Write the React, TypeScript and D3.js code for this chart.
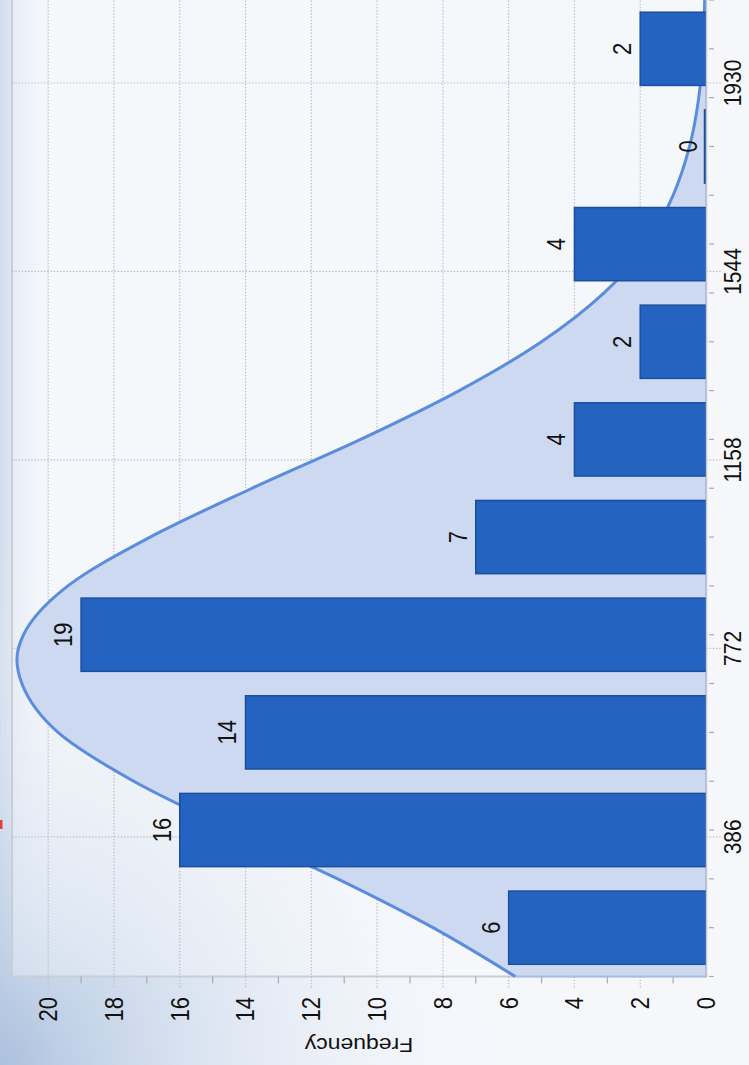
import React from 'react';
import * as d3 from 'd3';

// ---- data ----
const binCenters = [200, 400, 600, 800, 1000, 1200, 1400, 1600, 1800, 2000];
const frequencies = [6, 16, 14, 19, 7, 4, 2, 4, 0, 2];
const xTickLabels = [386, 772, 1158, 1544, 1930];
const yTickLabels = [0, 2, 4, 6, 8, 10, 12, 14, 16, 18, 20];
const curveValues = [100, 200, 300, 400, 500, 600, 700, 750, 800, 900, 1000, 1100, 1200, 1300, 1400, 1500, 1600, 1700, 1800, 1900, 2000, 2100];
const curveFreqs = [5.8, 8.3, 11.2, 14.4, 17.4, 19.7, 20.8, 20.95, 20.75, 19.4, 16.9, 13.8, 10.5, 7.5, 5.0, 3.1, 1.8, 1.0, 0.5, 0.22, 0.09, 0.04];
const yAxisTitle = 'Frequency';

const W = 749;
const H = 1065;

export default function App() {
  // chart is drawn in its own (unrotated) frame: width H, height W, then rotated -90deg
  const xScale = d3.scaleLinear().domain([100, 2100]).range([88.5, 1065]);
  const yScale = d3.scaleLinear().domain([0, 21.1]).range([706, 12]);
  const plotL = xScale(100);
  const plotR = 1066;
  const plotT = 12;
  const plotB = yScale(0);

  const pts = curveValues.map((v, i) => [v, curveFreqs[i]] as [number, number]);
  const area = d3
    .area<[number, number]>()
    .x((d) => xScale(d[0]))
    .y0(yScale(0))
    .y1((d) => yScale(d[1]))
    .curve(d3.curveMonotoneX);
  const line = d3
    .line<[number, number]>()
    .x((d) => xScale(d[0]))
    .y((d) => yScale(d[1]))
    .curve(d3.curveMonotoneX);

  const halfBar = 75;
  const minorX = xScale.ticks(20);
  const minorY = yScale.ticks(21).filter((t) => t <= 20 && t % 2 === 1);
  const gridY = yTickLabels.filter((t) => t > 0);
  const font = "'Liberation Sans', Arial, Helvetica, sans-serif";
  const stretch = 1.15;
  const textColor = '#111';
  const gridColor = '#b9bdc6';

  return (
    <svg
      width={W}
      height={H}
      style={{ position: 'absolute', left: 0, top: 0, display: 'block' }}
    >
      <defs>
        <radialGradient id="cornerGlow" cx="0" cy={H} r="520" gradientUnits="userSpaceOnUse">
          <stop offset="0" stopColor="#a9bfdd" stopOpacity="0.95" />
          <stop offset="0.35" stopColor="#c3d3e8" stopOpacity="0.6" />
          <stop offset="1" stopColor="#f5f7fb" stopOpacity="0" />
        </radialGradient>
        <linearGradient id="edgeGlow" x1="0" y1="0" x2="60" y2="0" gradientUnits="userSpaceOnUse">
          <stop offset="0" stopColor="#c9d6e9" stopOpacity="0.8" />
          <stop offset="1" stopColor="#f5f7fb" stopOpacity="0" />
        </linearGradient>
      </defs>
      <rect x={0} y={0} width={W} height={H} fill="#f5f7fb" />
      <rect x={0} y={0} width={W} height={H} fill="url(#edgeGlow)" />
      <rect x={0} y={0} width={W} height={H} fill="url(#cornerGlow)" />
      <rect x={0} y={820} width={2.5} height={9} fill="#e04040" />

      <g transform={`translate(0,${H}) rotate(-90)`}>
        {/* plot frame */}
        <rect
          x={plotL}
          y={plotT}
          width={plotR - plotL}
          height={plotB - plotT}
          fill="#f7f9fd"
          fillOpacity={0.35}
          stroke="#c9cdd5"
          strokeWidth={2}
        />

        {/* grid lines */}
        {gridY.map((t) => (
          <line
            key={'gy' + t}
            x1={plotL - 11}
            x2={plotR}
            y1={yScale(t)}
            y2={yScale(t)}
            stroke={gridColor}
            strokeWidth={1.2}
            strokeDasharray="1.4 1.8"
          />
        ))}
        {xTickLabels.map((t) => (
          <line
            key={'gx' + t}
            x1={xScale(t)}
            x2={xScale(t)}
            y1={plotT}
            y2={plotB + 16}
            stroke={gridColor}
            strokeWidth={1.2}
            strokeDasharray="1.4 1.8"
          />
        ))}

        {/* minor ticks */}
        {minorY.map((t) => (
          <line
            key={'my' + t}
            x1={plotL - 7}
            x2={plotL}
            y1={yScale(t)}
            y2={yScale(t)}
            stroke="#a7abb3"
            strokeWidth={1.2}
          />
        ))}
        {minorX.map((t) => (
          <line
            key={'mx' + t}
            x1={xScale(t)}
            x2={xScale(t)}
            y1={plotB + 3}
            y2={plotB + 8}
            stroke="#a7abb3"
            strokeWidth={1.2}
          />
        ))}

        {/* normal curve area */}
        <path d={area(pts) || ''} fill="#cdd9f0" stroke="#a7bee3" strokeWidth={2} />
        <path d={line(pts) || ''} fill="none" stroke="#5b8ddb" strokeWidth={3} />

        {/* bars */}
        {binCenters.map((c, i) => {
          const x0 = xScale(c - halfBar);
          const x1 = xScale(c + halfBar);
          const y0 = yScale(frequencies[i]);
          const h = Math.max(yScale(0) - y0, 1.5);
          return (
            <rect
              key={'b' + c}
              x={x0}
              y={yScale(0) - h}
              width={x1 - x0}
              height={h}
              fill="#2563c1"
              stroke="#1b4e9d"
              strokeWidth={1.5}
            />
          );
        })}

        {/* bar value labels */}
        {binCenters.map((c, i) => (
          <text
            key={'bl' + c}
            transform={`translate(${xScale(c)},${yScale(frequencies[i]) - 18}) scale(1,${stretch})`}
            dy="0.35em"
            textAnchor="middle"
            fontFamily={font}
            fontSize={22}
            fill={textColor}
          >
            {frequencies[i]}
          </text>
        ))}

        {/* axis line at frequency 0 */}
        <line x1={plotL} x2={plotR} y1={plotB + 0.5} y2={plotB + 0.5} stroke="#c2c6ce" strokeWidth={1.5} />

        {/* frequency tick labels */}
        {yTickLabels.map((t) => (
          <text
            key={'yl' + t}
            transform={`translate(68,${yScale(t)}) scale(1,${stretch})`}
            dy="0.35em"
            textAnchor="end"
            fontFamily={font}
            fontSize={22}
            fill={textColor}
          >
            {t}
          </text>
        ))}

        {/* value axis tick labels */}
        {xTickLabels.map((t) => (
          <text
            key={'xl' + t}
            transform={`translate(${xScale(t)},733) scale(1,1.1)`}
            dy="0.35em"
            textAnchor="middle"
            fontFamily={font}
            fontSize={21}
            fill={textColor}
          >
            {t}
          </text>
        ))}

        {/* axis title */}
        <text
          transform={`translate(20,${(plotT + plotB) / 2}) scale(1,1.15) rotate(-90)`}
          dy="0.35em"
          textAnchor="middle"
          fontFamily={font}
          fontSize={20}
          fill={textColor}
        >
          {yAxisTitle}
        </text>
      </g>
    </svg>
  );
}
